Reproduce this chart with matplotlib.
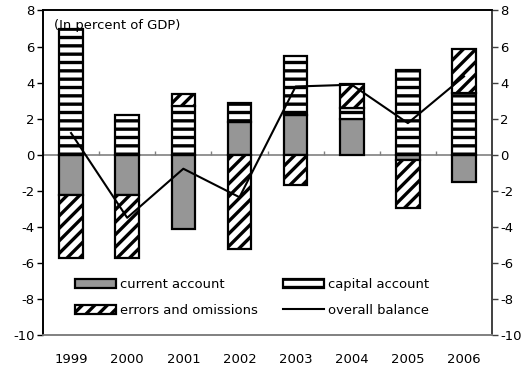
import numpy as np
import matplotlib
matplotlib.use('Agg')
import matplotlib.pyplot as plt

# drawn at 150 dpi so that the hatch spacing matches; sizes scaled by s
DPI = 150
s = 100 / DPI

plt.rcParams['font.family'] = ['DejaVu Sans']
plt.rcParams['axes.unicode_minus'] = False
plt.rcParams['hatch.linewidth'] = 1.6

years = ['1999', '2000', '2001', '2002', '2003', '2004', '2005', '2006']
current_account = [-2.25, -2.25, -4.12, 1.81, 2.2, 2.0, -0.28, -1.51]
capital_account = [6.96, 2.2, 2.68, 1.05, 3.28, 0.59, 4.7, 3.42]
errors_omissions = [-3.5, -3.5, 0.69, -5.23, -1.66, 1.33, -2.67, 2.45]
overall_balance = [1.2, -3.5, -0.78, -2.36, 3.78, 3.88, 1.75, 4.34]

gray = '#969696'
fs = 9.5 * s
x = np.arange(len(years))
w = 0.42

fig = plt.figure(figsize=(528 / DPI, 373 / DPI), dpi=DPI)
ax = fig.add_axes([0.0814, 0.102, 0.8506, 0.870])

# Excel-style stacking: positives up, negatives down, separately
pos = np.zeros(len(x))
neg = np.zeros(len(x))
handles = []
series = [(current_account, gray, None, 'current account'),
          (capital_account, 'white', '---', 'capital account'),
          (errors_omissions, 'white', '////', 'errors and omissions')]
for vals, col, hatch, lab in series:
    vals = np.array(vals)
    base = np.where(vals >= 0, pos, neg)
    b = ax.bar(x, vals, w, bottom=base, color=col, hatch=hatch,
               edgecolor='black', linewidth=1.6 * s, label=lab, zorder=2)
    handles.append(b)
    pos = pos + np.where(vals >= 0, vals, 0)
    neg = neg + np.where(vals < 0, vals, 0)

line, = ax.plot(x, overall_balance, color='black', lw=1.5 * s,
                label='overall balance', zorder=3)

ax.axhline(0, color='#808080', lw=1.2 * s, zorder=1)
ax.vlines(np.arange(len(x) + 1) - 0.5, 0, 0.18, color='#808080', lw=1 * s, zorder=1)

ax.set_xlim(-0.5, len(x) - 0.5)
ax.set_ylim(-10, 8)
ax.set_yticks(np.arange(-10, 9, 2))
ax.set_xticks(x)
ax.set_xticklabels(years)
ax.tick_params(axis='x', length=0, pad=13 * s, labelsize=fs)
ax.tick_params(axis='y', length=4 * s, width=1 * s, labelsize=fs, pad=2 * s)

ax2 = ax.twinx()
ax2.set_ylim(-10, 8)
ax2.set_yticks(np.arange(-10, 9, 2))
ax2.tick_params(axis='y', length=4 * s, width=1 * s, labelsize=fs, pad=2 * s,
                color='#404040')

for a in (ax, ax2):
    a.spines['bottom'].set_color('#808080')
    a.spines['left'].set_color('black')
    a.spines['top'].set_color('black')
    a.spines['right'].set_color('#404040')
    for sp in a.spines.values():
        sp.set_linewidth(1.2 * s)

ax.text(0.025, 0.975, '(In percent of GDP)', transform=ax.transAxes,
        fontsize=fs, va='top', ha='left')

ax.legend([handles[0], handles[2], handles[1], line],
          ['current account', 'errors and omissions', 'capital account', 'overall balance'],
          ncol=2, frameon=False, loc='upper left', bbox_to_anchor=(0.072, 0.176),
          fontsize=fs, handlelength=3.1, handleheight=0.7, handletextpad=0.3,
          labelspacing=1.0, columnspacing=1.9, borderpad=0, borderaxespad=0)

fig.savefig('out.png', dpi=DPI)
